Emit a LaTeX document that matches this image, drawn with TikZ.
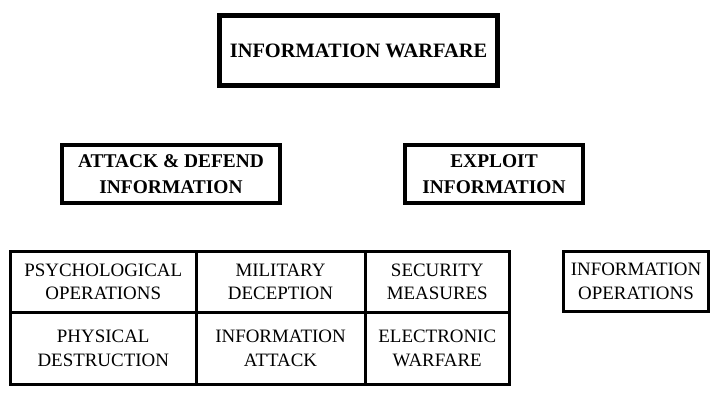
\documentclass[tikz,border=0pt]{standalone}
\usepackage{fontspec}
\setmainfont{Liberation Serif}
\usepackage{tikz}
\usetikzlibrary{positioning}

\begin{document}
\begin{tikzpicture}[
    x=1bp, y=-1bp,
    headbox/.style={rectangle, draw, line width=5bp, minimum width=278bp, minimum height=70bp,
                align=center, font=\fontsize{20.5}{24}\selectfont\bfseries},
    midbox/.style={rectangle, draw, line width=4bp, minimum height=58bp,
                align=center, font=\fontsize{19.5}{26}\selectfont\bfseries},
    cell/.style={rectangle, draw, line width=3bp, minimum height=60.5bp,
                align=center, font=\fontsize{19}{23.5}\selectfont},
]
\useasboundingbox (0,0) rectangle (720,405);
% Top level
\node[headbox] (infowar) at (358.5,50.5) {INFORMATION WARFARE};

% Second level
\node[midbox, minimum width=218bp] (attack) at (171,174) {ATTACK \& DEFEND\\INFORMATION};
\node[midbox, minimum width=178bp] (exploit) at (494,174) {EXPLOIT\\INFORMATION};

% Elements
\node[cell, minimum width=185.5bp] (psyops) at (103.25,281.75) {PSYCHOLOGICAL\\OPERATIONS};
\node[cell, minimum width=169bp] (deception) at (280.5,281.75) {MILITARY\\DECEPTION};
\node[cell, minimum width=144.5bp] (security) at (437.25,281.75) {SECURITY\\MEASURES};
\node[cell, minimum width=185.5bp, minimum height=72.5bp] (destruction) at (103.25,348.25) {PHYSICAL\\DESTRUCTION};
\node[cell, minimum width=169bp, minimum height=72.5bp] (infoattack) at (280.5,348.25) {INFORMATION\\ATTACK};
\node[cell, minimum width=144.5bp, minimum height=72.5bp] (ew) at (437.25,348.25) {ELECTRONIC\\WARFARE};

\node[cell, minimum width=145bp, minimum height=60bp] (infoops) at (636,281.5) {INFORMATION\\OPERATIONS};
\end{tikzpicture}
\end{document}
